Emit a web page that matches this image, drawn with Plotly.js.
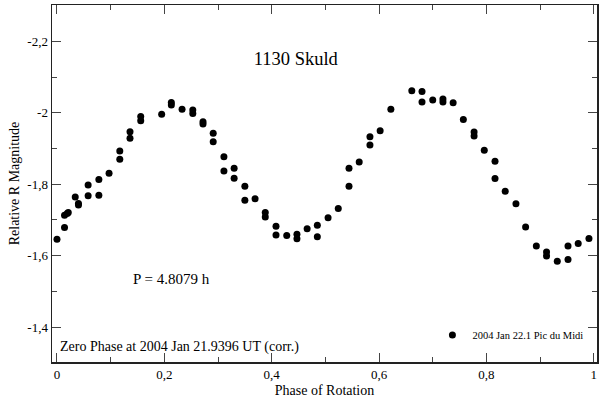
<!DOCTYPE html>
<html>
<head>
<meta charset="utf-8">
<script src="https://cdn.plot.ly/plotly-3.0.1.min.js"></script>
<style>html,body{margin:0;padding:0;background:#fff}#chart{width:600px;height:398px}</style>
</head>
<body>
<div id="chart"></div>
<script>
const phase = [0.000,0.014,0.014,0.019,0.021,0.034,0.040,0.040,0.058,0.058,0.078,0.078,0.097,0.117,0.117,0.136,0.136,0.156,0.156,
  0.195,0.213,0.213,0.233,0.253,0.253,0.272,0.272,0.291,0.291,0.311,0.311,0.330,0.330,
  0.350,0.350,0.369,0.388,0.388,0.408,0.408,0.428,0.447,0.447,0.466,0.485,0.485,0.505,
  0.524,0.544,0.544,0.563,0.583,0.583,0.602,0.622,0.661,0.680,0.680,
  0.700,0.719,0.719,0.738,0.757,0.777,0.777,0.796,0.816,0.816,0.835,0.855,0.873,
  0.893,0.912,0.912,0.932,0.952,0.952,0.971,0.991];
const mag = [-1.646,-1.679,-1.713,-1.718,-1.721,-1.764,-1.746,-1.742,-1.798,-1.768,-1.813,-1.769,-1.831,-1.893,-1.870,-1.947,-1.929,-1.990,-1.978,
  -1.996,-2.029,-2.022,-2.010,-2.008,-1.998,-1.975,-1.969,-1.943,-1.919,-1.877,-1.837,-1.845,-1.817,
  -1.794,-1.755,-1.759,-1.721,-1.708,-1.682,-1.658,-1.656,-1.660,-1.647,-1.675,-1.685,-1.653,-1.706,
  -1.732,-1.794,-1.845,-1.862,-1.910,-1.933,-1.950,-2.010,-2.062,-2.060,-2.030,
  -2.036,-2.039,-2.030,-2.028,-1.981,-1.946,-1.935,-1.895,-1.864,-1.816,-1.780,-1.745,-1.680,
  -1.627,-1.610,-1.599,-1.584,-1.627,-1.589,-1.634,-1.648];
const seriesName = "2004 Jan 22.1 Pic du Midi";
const xTickVals = [0, 0.2, 0.4, 0.6, 0.8, 1];
const xTickText = ["0", "0,2", "0,4", "0,6", "0,8", "1"];
const yTickVals = [-1.4, -1.6, -1.8, -2, -2.2];
const yTickText = ["-1,4", "-1,6", "-1,8", "-2", "-2,2"];
const chartTitle = "1130 Skuld";
const periodText = "P = 4.8079 h";
const zeroPhaseText = "Zero Phase at 2004 Jan 21.9396 UT (corr.)";

const serif = "Liberation Serif, Times New Roman, serif";
const axisCommon = {
  showline: true, linecolor: "#222", linewidth: 1.5, mirror: "ticks",
  ticks: "inside", ticklen: 9, tickwidth: 1, tickcolor: "#444",
  showgrid: false, zeroline: false,
  tickfont: {family: serif, size: 13, color: "#000"},
  minor: {dtick: 0.1, tick0: 0, ticks: "inside", ticklen: 5, tickwidth: 1, tickcolor: "#444", showgrid: false}
};

const data = [{
  x: phase, y: mag, type: "scatter", mode: "markers", name: seriesName,
  marker: {color: "#000", size: 7}
}];

const layout = {
  width: 600, height: 398,
  margin: {l: 52, r: 3, t: 5, b: 36},
  paper_bgcolor: "#fff", plot_bgcolor: "#fff",
  font: {family: serif, color: "#000"},
  title: {text: chartTitle, x: 0.493, xanchor: "center", y: 0.854, yanchor: "middle",
          font: {family: serif, size: 18.5, color: "#000"}},
  xaxis: Object.assign({}, axisCommon, {
    range: [-0.0093, 1.006], tickmode: "array", tickvals: xTickVals, ticktext: xTickText,
    title: {text: "Phase of Rotation", font: {family: serif, size: 14, color: "#000"}, standoff: 4}
  }),
  yaxis: Object.assign({}, axisCommon, {
    range: [-1.302, -2.302], tickmode: "array", tickvals: yTickVals, ticktext: yTickText,
    title: {text: "Relative R Magnitude", font: {family: serif, size: 14, color: "#000"}, standoff: 4}
  }),
  showlegend: true,
  legend: {x: 0.698, xanchor: "left", y: 0.0756, yanchor: "middle", bgcolor: "rgba(0,0,0,0)",
           font: {family: serif, size: 10.5, color: "#000"}},
  annotations: [
    {text: periodText, xref: "paper", yref: "paper", x: (131-52)/545, y: (362-279)/357,
     xanchor: "left", yanchor: "middle", showarrow: false, font: {family: serif, size: 15, color: "#000"}},
    {text: zeroPhaseText, xref: "paper", yref: "paper", x: (58-52)/545, y: (362-347)/357,
     xanchor: "left", yanchor: "middle", showarrow: false, font: {family: serif, size: 14, color: "#000"}}
  ]
};

Plotly.newPlot("chart", data, layout, {displayModeBar: false, staticPlot: true});
</script>
</body>
</html>
